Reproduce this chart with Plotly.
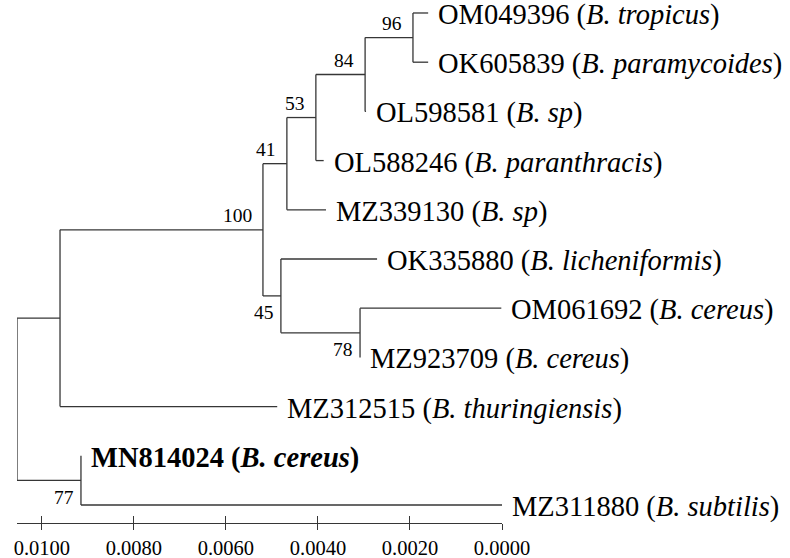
import plotly.graph_objects as go

# ---------------- data ----------------
tip_order = ["OM049396", "OK605839", "OL598581", "OL588246", "MZ339130",
             "OK335880", "OM061692", "MZ923709", "MZ312515", "MN814024", "MZ311880"]
tip_species = ["B. tropicus", "B. paramycoides", "B. sp", "B. paranthracis", "B. sp",
               "B. licheniformis", "B. cereus", "B. cereus", "B. thuringiensis",
               "B. cereus", "B. subtilis"]
tip_bold = ["MN814024"]

edge_parent = ["root", "root", "A", "A", "n100", "n100", "n41", "n41", "n53", "n53",
               "n84", "n84", "n96", "n96", "n45", "n45", "n78", "n78", "n77", "n77"]
edge_child = ["A", "n77", "n100", "MZ312515", "n41", "n45", "n53", "MZ339130", "n84", "OL588246",
              "n96", "OL598581", "OM049396", "OK605839", "OK335880", "n78", "OM061692", "MZ923709",
              "MN814024", "MZ311880"]
branch_length = [0.000935, 0.00139, 0.00441, 0.00472, 0.00052, 0.00039, 0.00063, 0.00085,
                 0.00107, 0.00017, 0.00104, 0.00002, 0.00033, 0.00033, 0.00209, 0.00172,
                 0.00307, 0.0, 0.0, 0.00915]

boot_node = ["n96", "n84", "n53", "n41", "n100", "n45", "n78", "n77"]
boot_value = [96, 84, 53, 41, 100, 45, 78, 77]
boot_side = ["above", "above", "above", "above", "above", "below", "below", "below"]

tick_values = [0.0100, 0.0080, 0.0060, 0.0040, 0.0020, 0.0000]
tick_labels = ["0.0100", "0.0080", "0.0060", "0.0040", "0.0020", "0.0000"]

# ---------------- layout of tree ----------------
children = {}
parent_of = {}
blen = {}
for p, c, b in zip(edge_parent, edge_child, branch_length):
    children.setdefault(p, []).append(c)
    parent_of[c] = p
    blen[c] = b

depth = {"root": 0.0}
def set_depth(n):
    for c in children.get(n, []):
        depth[c] = depth[n] + blen[c]
        set_depth(c)
set_depth("root")
D = max(depth[t] for t in tip_order)
xpos = {n: D - d for n, d in depth.items()}   # scale value (reversed axis)

ypos = {t: i for i, t in enumerate(tip_order)}
def set_y(n):
    if n in ypos:
        return ypos[n]
    ys = [set_y(c) for c in children[n]]
    ypos[n] = (min(ys) + max(ys)) / 2
    return ypos[n]
set_y("root")

lx, ly = [], []
for c in edge_child:
    p = parent_of[c]
    lx += [xpos[p], xpos[c], None]
    ly += [ypos[c], ypos[c], None]
for n, ch in children.items():
    ys = [ypos[c] for c in ch]
    lx += [xpos[n], xpos[n], None]
    ly += [min(ys), max(ys), None]

SERIF = "Liberation Serif, Times New Roman, serif"
LINE = "#363636"

fig = go.Figure()
fig.add_trace(go.Scatter(x=lx, y=ly, mode="lines",
                         line=dict(color=LINE, width=1.3),
                         hoverinfo="skip", showlegend=False))

annotations = []
for t, sp in zip(tip_order, tip_species):
    txt = f"{t} (<i>{sp}</i>)"
    if t in tip_bold:
        txt = f"<b>{txt}</b>"
    annotations.append(dict(x=xpos[t], y=ypos[t], xref="x", yref="y", text=txt,
                            showarrow=False, xanchor="left", yanchor="middle",
                            xshift=8, yshift=-2,
                            font=dict(family=SERIF, size=28.5, color="black")))
for n, v, side in zip(boot_node, boot_value, boot_side):
    if side == "above":
        annotations.append(dict(x=xpos[n], y=ypos[n], xref="x", yref="y", text=str(v),
                                showarrow=False, xanchor="right", yanchor="middle",
                                xshift=-9, yshift=14,
                                font=dict(family=SERIF, size=19.5, color="black")))
    else:
        annotations.append(dict(x=xpos[n], y=ypos[n], xref="x", yref="y", text=str(v),
                                showarrow=False, xanchor="right", yanchor="middle",
                                xshift=-5, yshift=-17,
                                font=dict(family=SERIF, size=19.5, color="black")))

# empty trace for the second (inside-tick) axis
fig.add_trace(go.Scatter(x=[None], y=[None], xaxis="x2", showlegend=False, hoverinfo="skip"))

fig.update_layout(
    width=790, height=558, autosize=False,
    margin=dict(l=17, r=288, t=0, b=35, pad=0),
    paper_bgcolor="white", plot_bgcolor="white",
    showlegend=False,
    annotations=annotations,
    xaxis=dict(range=[D, 0], tickvals=tick_values, ticktext=tick_labels,
               showline=True, linecolor=LINE, linewidth=1.3,
               ticks="outside", ticklen=6, tickwidth=1.3, tickcolor=LINE,
               showgrid=False, zeroline=False,
               tickfont=dict(family=SERIF, size=20.5, color="black")),
    xaxis2=dict(range=[D, 0], tickvals=tick_values, overlaying="x", anchor="y",
                side="bottom", ticks="inside", ticklen=7, tickwidth=1.3, tickcolor=LINE,
                showticklabels=False, showline=False, showgrid=False, zeroline=False),
    yaxis=dict(range=[10.366, -0.264], visible=False, showgrid=False, zeroline=False),
)

fig.write_html("out.html")
